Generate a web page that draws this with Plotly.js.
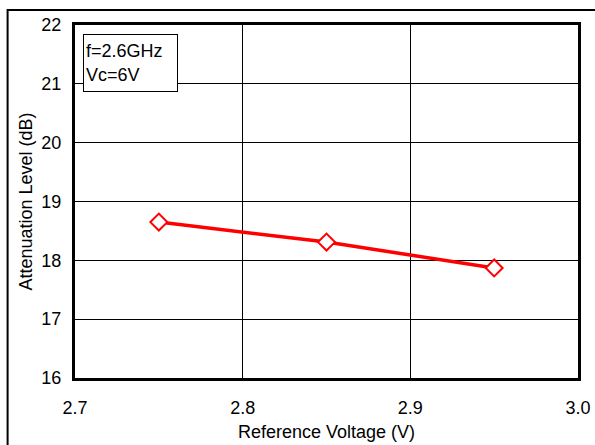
<!DOCTYPE html>
<html>
<head>
<meta charset="utf-8">
<script src="https://cdn.plot.ly/plotly-3.0.1.min.js"></script>
<style>
html,body{margin:0;padding:0;background:#fff;}
#chart{width:595px;height:445px;}
</style>
</head>
<body>
<div id="chart"></div>
<script>
const refVoltage = [2.75, 2.85, 2.95];
const attenuation = [18.65, 18.31, 17.87];
const xTicks = [2.7, 2.8, 2.9, 3.0];
const yTicks = [16, 17, 18, 19, 20, 21, 22];
const noteLines = ["f=2.6GHz", "Vc=6V"];

const font = {family: "Liberation Sans, Arial, sans-serif", size: 18, color: "#000"};

const trace = {
  x: refVoltage,
  y: attenuation,
  type: "scatter",
  mode: "lines+markers",
  line: {color: "#ff0000", width: 3.5},
  marker: {symbol: "diamond", size: 13, color: "#ffffff", line: {color: "#ff0000", width: 2}},
  showlegend: false,
  cliponaxis: false
};

const layout = {
  width: 595, height: 445,
  margin: {l: 75, r: 17, t: 25, b: 67},
  paper_bgcolor: "#fff", plot_bgcolor: "#fff",
  font: font,
  xaxis: {
    range: [2.7, 3.0],
    tickvals: xTicks,
    ticktext: xTicks.map(v => v.toFixed(1)),
    showgrid: true, gridcolor: "#000", gridwidth: 1,
    showline: true, linecolor: "#000", linewidth: 3, mirror: true,
    ticks: "", zeroline: false,
    ticklabelstandoff: 11,
    title: {text: "Reference Voltage (V)", font: font, standoff: 9}
  },
  yaxis: {
    range: [16, 22],
    tickvals: yTicks,
    showgrid: true, gridcolor: "#000", gridwidth: 1,
    showline: true, linecolor: "#000", linewidth: 3, mirror: true,
    ticks: "", zeroline: false,
    ticklabelstandoff: 7,
    title: {text: "Attenuation Level (dB)", font: font, standoff: 5}
  },
  shapes: [
    {type: "rect", xref: "paper", yref: "paper", x0: -0.134, x1: 1.1, y0: -0.3, y1: 1.0425,
     line: {color: "#000", width: 2}, fillcolor: "rgba(0,0,0,0)", layer: "above"}
  ],
  annotations: [
    {xref: "paper", yref: "paper", x: 0.016, y: 0.974, xanchor: "left", yanchor: "top",
     text: noteLines.join("<br>"), showarrow: false, align: "left", valign: "middle",
     width: 89, height: 52, font: font,
     bordercolor: "#000", borderwidth: 1, borderpad: 2, bgcolor: "#fff"}
  ]
};

Plotly.newPlot("chart", [trace], layout, {staticPlot: true, displayModeBar: false});
</script>
</body>
</html>
